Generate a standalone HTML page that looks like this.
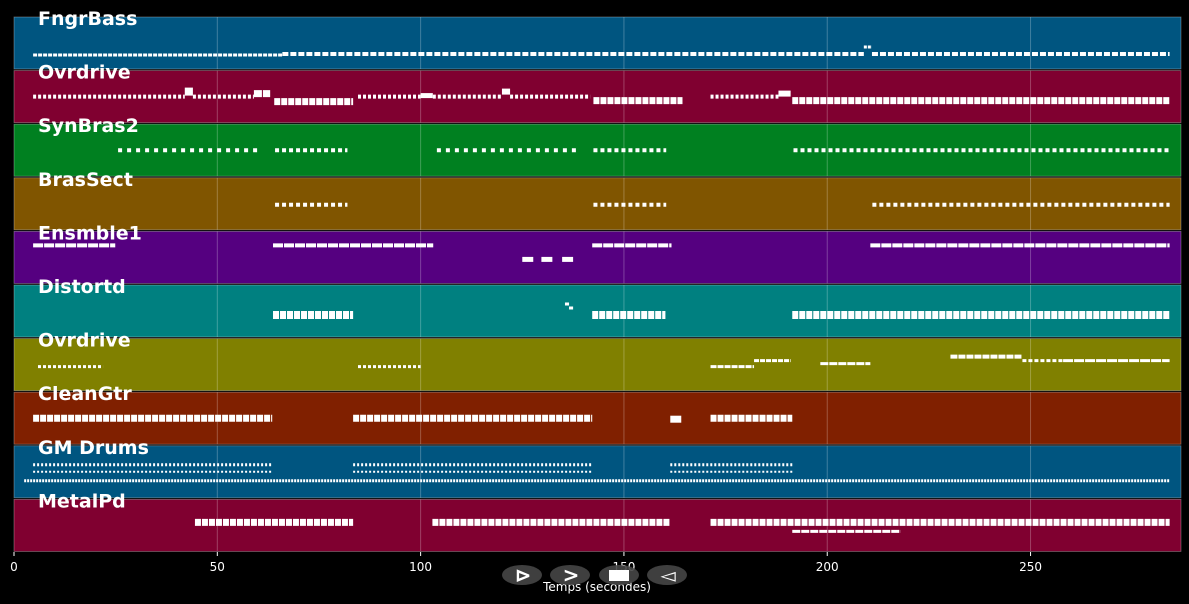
<!DOCTYPE html>
<html><head><meta charset="utf-8"><style>
body{margin:0;background:#000;width:1189px;height:604px;overflow:hidden}
svg{display:block;font-family:"DejaVu Sans","Liberation Sans",sans-serif}
</style></head><body>
<svg id="chart" width="1189" height="604"></svg>
<script>
const trackNames=["FngrBass","Ovrdrive","SynBras2","BrasSect","Ensmble1","Distortd","Ovrdrive","CleanGtr","GM Drums","MetalPd"];
const trackColors=["#005580","#800030","#008020","#805500","#550080","#008080","#808000","#802000","#005580","#800030"];
// note runs: [startSec, endSec, pitchOffset(px from band top), noteHeight, dash, gap]
const notes0=[[4.7,66,38,3,4,1],[66,209,37,4,6,2],[209,211,30,3,3,1],[211,284.2,37,4,6,2]];
const notes1=[[4.7,42,26,4,3,2],[42,44,21,8,8,0],[44,59,26,4,3,2],[59,63,23,7,8,1],[64,83.4,31,7,6,1],[84.6,100,26,4,3,2],[100,103,25,5,8,0],[103,120,26,4,3,2],[120,122,21,6,6,0],[122,141.7,26,4,3,2],[142.5,164.4,30,7,6,1],[171.3,188,26,4,3,2],[188,191,23,6,8,0],[191.4,284.2,30,7,6,1]];
const notes2=[[25.6,61,26,4,4,5],[64.2,82,26,4,4,3],[104,139.3,26,4,4,5],[142.5,160.4,26,4,4,3],[191.7,284.2,26,4,4,3]];
const notes3=[[64.2,82,27,4,4,3],[142.5,160.4,27,4,4,3],[211.1,284.2,27,4,4,3]];
const notes4=[[4.7,24.9,14,4,10,1],[63.7,103.1,14,4,10,1],[142.2,161.7,14,4,10,1],[210.6,284.2,14,4,10,1],[125,127.7,28,5,11,0],[129.7,132.4,28,5,11,0],[134.8,137.5,28,5,11,0]];
const notes5=[[63.7,83.4,30,8,6,1],[135.5,136.5,19,3,3,0],[136.5,137.5,23,3,3,0],[142.2,160.2,30,8,6,1],[191.4,284.2,30,8,6,1]];
const notes6=[[5.9,21.9,28,3,3,2],[84.6,100,28,3,3,2],[171.3,182,28,3,6,1],[182,191,22,3,5,1],[198.3,210.6,25,3,8,1],[230.3,248,18,4,7,1],[248,258,22,3,4,2],[258,284.2,22,3,10,1]];
const notes7=[[4.7,63.5,26,7,6,1],[83.4,142.2,26,7,6,1],[161.4,164.1,27,7,10,0],[171.3,191.4,26,7,6,1]];
const notes8=[[4.7,63.5,19,3,2,2],[83.4,142.2,19,3,2,2],[161.4,191.4,19,3,2,2],[4.7,63.5,26,2,2,2],[83.4,142.2,26,2,2,2],[161.4,191.4,26,2,2,2],[2.5,284.2,35,3,2,1]];
const notes9=[[44.5,83.4,23,7,6,1],[102.9,161.4,23,7,6,1],[171.3,284.2,23,7,6,1],[191.4,218,32,3,8,1]];
const allNotes=[notes0,notes1,notes2,notes3,notes4,notes5,notes6,notes7,notes8,notes9];
const xTicks=[0,50,100,150,200,250];

const NS="http://www.w3.org/2000/svg";
const svg=document.getElementById('chart');
const X0=14,X1=1181,TMAX=287;
const x=t=>X0+(t/TMAX)*(X1-X0);
const bandTop=i=>17+i*53.6;
const BH=52;
function mk(tag,attrs,parent){const e=document.createElementNS(NS,tag);for(const k in attrs)e.setAttribute(k,attrs[k]);(parent||svg).appendChild(e);return e;}

trackNames.forEach((nm,i)=>{
  const g=mk('g',{});
  
  
  const r=mk('rect',{x:X0,y:bandTop(i),width:X1-X0,height:BH,fill:trackColors[i],stroke:'rgba(255,255,255,0.35)','stroke-width':0.8},g);
  
  
  xTicks.forEach(t=>{if(t>0){const l=mk('line',{x1:x(t),x2:x(t),y1:bandTop(i),y2:bandTop(i)+BH,stroke:'rgba(255,255,255,0.25)','stroke-width':1},g);
    
    }});
  allNotes[i].forEach(n=>{
    const y=bandTop(i)+n[2];
    const l=mk('line',{x1:x(n[0]),x2:x(n[1]),y1:y,y2:y,stroke:'#fff','stroke-width':n[3],'stroke-dasharray':n[5]>0?(n[4]+' '+n[5]):'none'},g);
    
    
  });
  const tx=mk('text',{x:38,y:bandTop(i)+8,fill:'#fff','font-size':19,'font-weight':'bold'},g);
  tx.textContent=nm;
  
  
});
xTicks.forEach(t=>{
  const l=mk('line',{x1:x(t),x2:x(t),y1:552,y2:556,stroke:'#fff','stroke-width':1});
  
  
  const tx=mk('text',{x:x(t),y:571,fill:'#fff','font-size':12,'text-anchor':'middle'});
  tx.textContent=t;
  
  
});
const xl=mk('text',{x:597,y:591,fill:'#fff','font-size':12,'text-anchor':'middle'});
xl.textContent='Temps (secondes)';


const btns=[['prev-button','⊳'],['play-button','>'],['stop-button',''],['next-button','◅']];
[522,570,619,667].forEach((cx,k)=>{
  const g=mk('g',{});
  
  
  mk('ellipse',{cx:cx,cy:575,rx:20,ry:10,fill:'rgba(70,70,70,0.9)'},g);
  if(k===2){mk('rect',{x:cx-10,y:570,width:20,height:11,fill:'#fff'},g);}
  else{const t=mk('text',{x:cx+1,y:582,fill:'#fff','font-size':20,'font-weight':'bold','text-anchor':'middle'},g);t.textContent=btns[k][1];}
});
</script>
</body></html>
